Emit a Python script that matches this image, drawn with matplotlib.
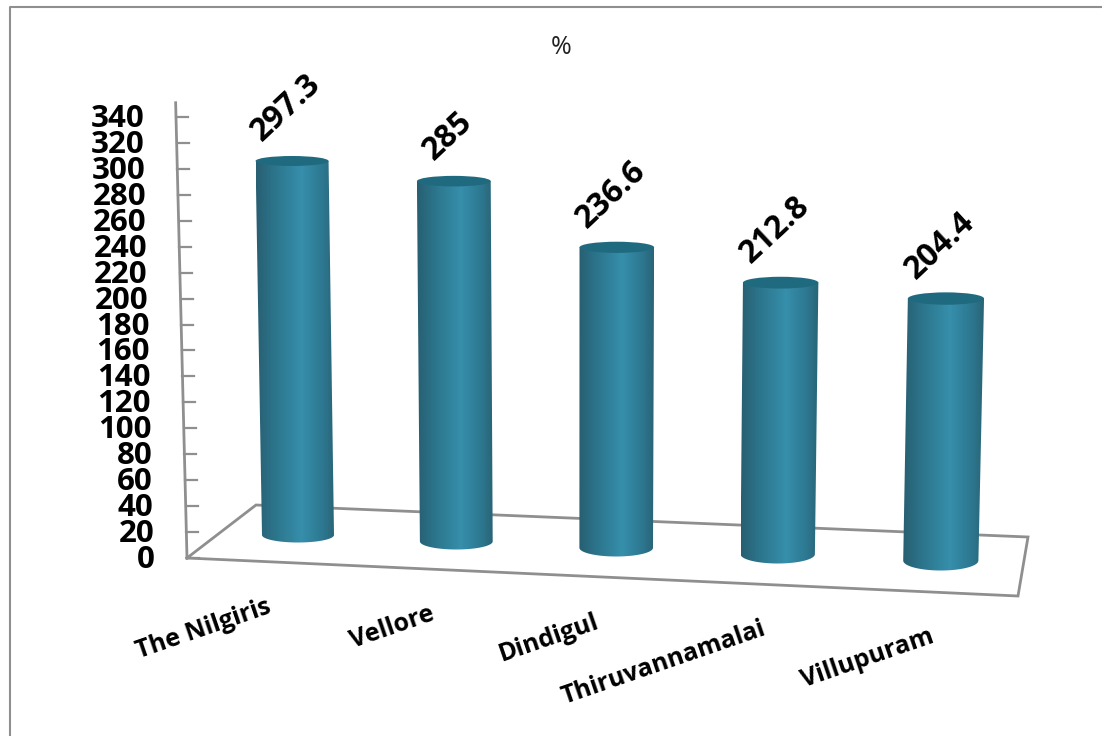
'''
3D style cylinder chart, drawn on a pixel sized axes
'''
import numpy as np
from matplotlib import pyplot as plt
from matplotlib.colors import LinearSegmentedColormap
from matplotlib.patches import Ellipse, PathPatch
from matplotlib.path import Path

districts = ['The Nilgiris', 'Vellore', 'Dindigul', 'Thiruvannamalai', 'Villupuram']
values = [297.3, 285, 236.6, 212.8, 204.4]
value_labels = ['297.3', '285', '236.6', '212.8', '204.4']
y_ticks = list(range(0, 341, 20))

GREY = '#8f8f8f'
plt.rcParams['font.family'] = ['Open Sans', 'DejaVu Sans']


def base_point(i):
    '''Centre of the bottom of column i on the floor'''
    return 298 + 157.5 * i + 0.8 * i ** 2, 535 + 6.4 * i


def top_point(i, value):
    '''Centre of the top of column i for a value, with the slight 3D lean'''
    bx, by = base_point(i)
    return bx + value * (-0.02 + 0.0113 * i), by - value * (1.258 + 0.006 * i)


def axis_point(value):
    return 187 - value * 11 / 340, 558 - value * 441 / 340


def draw_column(ax, i, value, cmap):
    bx, by = base_point(i)
    tx, ty = top_point(i, value)
    half_b, half_t = 36 + 0.4 * i, 36.5 + 0.4 * i
    ry_b, ry_t = 7.5 + 0.6 * i, 5 + 0.3 * i

    t = np.linspace(np.pi, 0, 40)
    arc = np.column_stack([bx + half_b * np.cos(t), by + ry_b * np.sin(t)])
    verts = [(tx - half_t, ty), *map(tuple, arc), (tx + half_t, ty), (tx - half_t, ty)]
    codes = [Path.MOVETO] + [Path.LINETO] * (len(verts) - 2) + [Path.CLOSEPOLY]
    body = PathPatch(Path(verts, codes), facecolor='none', edgecolor='none', zorder=3)
    ax.add_patch(body)

    left, right = min(tx - half_t, bx - half_b), max(tx + half_t, bx + half_b)
    img = ax.imshow(np.linspace(0, 1, 128)[None, :], cmap=cmap, aspect='auto', zorder=3,
                    extent=(left, right, by + ry_b + 1, ty - 1), interpolation='bilinear')
    img.set_clip_path(body)

    cap = Ellipse((tx, ty), 2 * half_t, 2 * ry_t, facecolor='#206a80', edgecolor='none', zorder=4)
    ax.add_patch(cap)


fig = plt.figure(figsize=(11.02, 7.36), dpi=100)
ax = fig.add_axes([0, 0, 1, 1])
ax.set_axis_off()

body_cmap = LinearSegmentedColormap.from_list('column', [
    (0.0, '#285f72'), (0.25, '#2c768d'), (0.58, '#368fab'),
    (0.85, '#2d7790'), (1.0, '#296577')])

# outer chart frame
ax.plot([9.5, 9.5, 1102], [736, 6.5, 6.5], color=GREY, lw=1.5, zorder=1)

# floor
floor_x = [187, 256, 1028, 1018, 187]
floor_y = [558, 505, 537, 596, 558]
ax.plot(floor_x, floor_y, color=GREY, lw=2, zorder=2, solid_joinstyle='miter')

# value axis
x0, y0 = axis_point(0)
x1, y1 = axis_point(351)
ax.plot([x0, x1], [y0, y1], color=GREY, lw=2, zorder=2)
for tick in y_ticks:
    px, py = axis_point(tick)
    ax.plot([px, px + 12], [py, py], color=GREY, lw=1.6, zorder=2)
    ax.text(px - 32, py + 2, str(tick), ha='right', va='center', fontsize=22.5,
            fontweight='bold', color='black', linespacing=1)

for i, (name, value, label) in enumerate(zip(districts, values, value_labels)):
    draw_column(ax, i, value, body_cmap)

    tx, ty = top_point(i, value)
    ax.text(tx - 6, ty - (33 + 4 * len(label)), label, rotation=43, ha='center', va='center',
            rotation_mode='anchor', fontsize=23, fontweight='bold', color='black', zorder=5)

    bx, by = base_point(i)
    ax.text(bx - 28 + 5 * i, by + 71 + i, name, rotation=19, ha='right', va='center',
            rotation_mode='anchor', fontsize=18, fontweight='bold', color='black', zorder=5)

ax.text(561, 47, '%', ha='center', va='center', fontsize=18, color='#222222')

ax.set_xlim(0, 1102)
ax.set_ylim(736, 0)
fig.savefig('out.png', dpi=100)
